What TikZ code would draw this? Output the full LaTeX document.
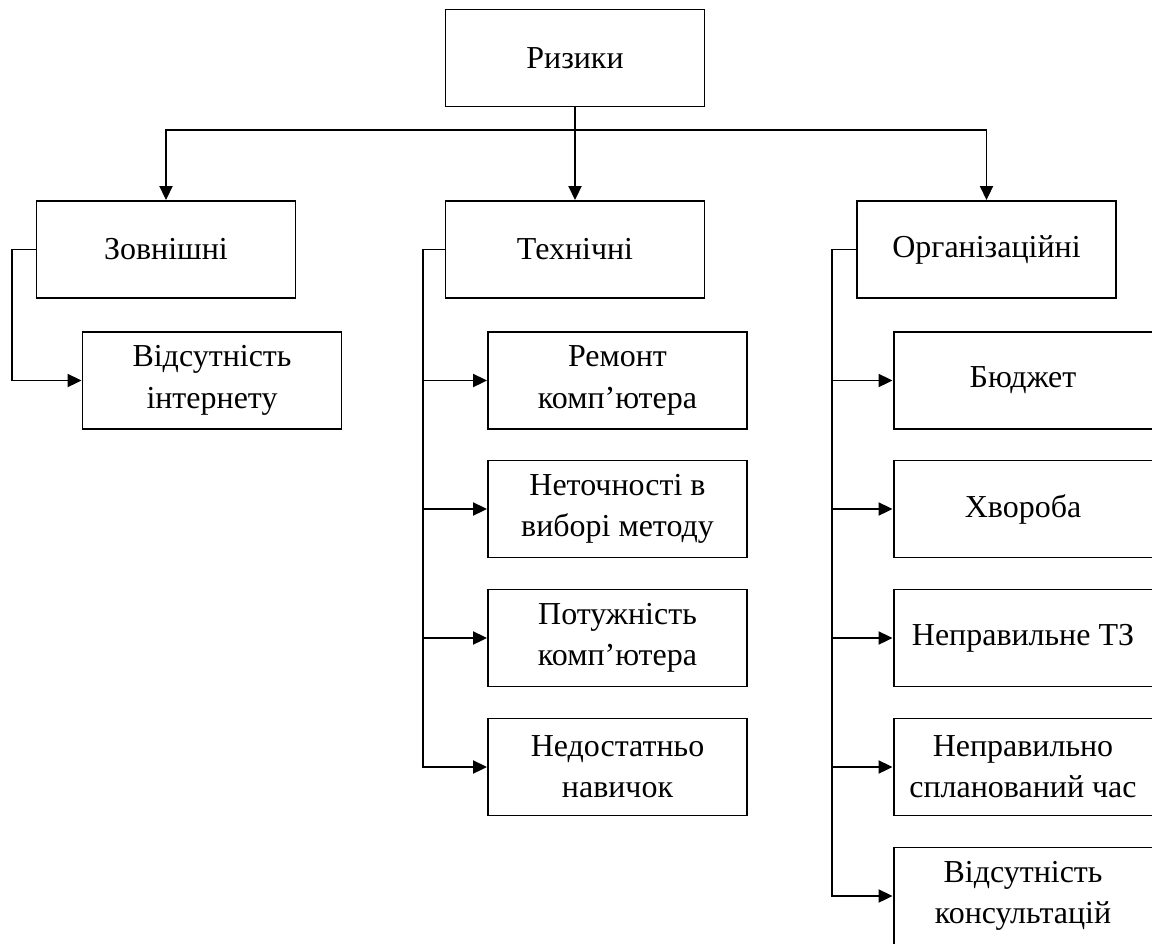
\documentclass[tikz,border=0pt]{standalone}
\usepackage{fontspec}
\setmainfont{Liberation Serif}
\usetikzlibrary{arrows.meta}
\begin{document}
\begin{tikzpicture}[x=0.02cm,y=-0.02cm,line width=1.1pt,>={Triangle[length=0.28cm,width=0.26cm]},
  risk box/.style={rectangle,draw,minimum width=5.18cm,minimum height=1.94cm,align=center,font=\fontsize{18.2}{23.5}\selectfont}]
\useasboundingbox (0,0) rectangle (1152,943);
\node [risk box] (root) at (575,58) {Ризики};
\node [risk box] (zovn) at (166,249.5) {Зовнішні};
\node [risk box] (tekh) at (575,249.5) {Технічні};
\node [risk box] (org) at (986.5,249.5) {Організаційні};
% zovnishni
\node [risk box] (net) at (212,380.5) {Відсутність\\інтернету};
% tekhnichni
\node [risk box] (remont) at (617.5,380.5) {Ремонт\\комп’ютера};
\node [risk box] (metod) at (617.5,509) {Неточності в\\виборі методу};
\node [risk box] (potuzh) at (617.5,638) {Потужність\\комп’ютера};
\node [risk box] (navych) at (617.5,767) {Недостатньо\\навичок};
% orhanizatsiini
\node [risk box] (budget) at (1023,380.5) {Бюджет};
\node [risk box] (khvor) at (1023,509) {Хвороба};
\node [risk box] (tz) at (1023,638) {Неправильне ТЗ};
\node [risk box] (chas) at (1023,767) {Неправильно\\спланований час};
\node [risk box] (kons) at (1023,896) {Відсутність\\консультацій};
\coordinate (bar) at (575,130);
\coordinate (tspine) at (423,249.5);
\coordinate (ospine) at (832,249.5);
\draw [->] (root.south) -- (tekh.north);
\draw [->] (bar) -| (zovn.north);
\draw [->] (bar) -| (org.north);
\draw [->] (zovn.west) -- ++(-24,0) |- (net.west);
\draw [->] (tekh.west) -- (tspine) |- (navych.west);
\foreach \n in {remont,metod,potuzh}
  \draw [->] (tspine |- \n.west) -- (\n.west);
\draw [->] (org.west) -- (ospine) |- (kons.west);
\foreach \n in {budget,khvor,tz,chas}
  \draw [->] (ospine |- \n.west) -- (\n.west);
\end{tikzpicture}
\end{document}
